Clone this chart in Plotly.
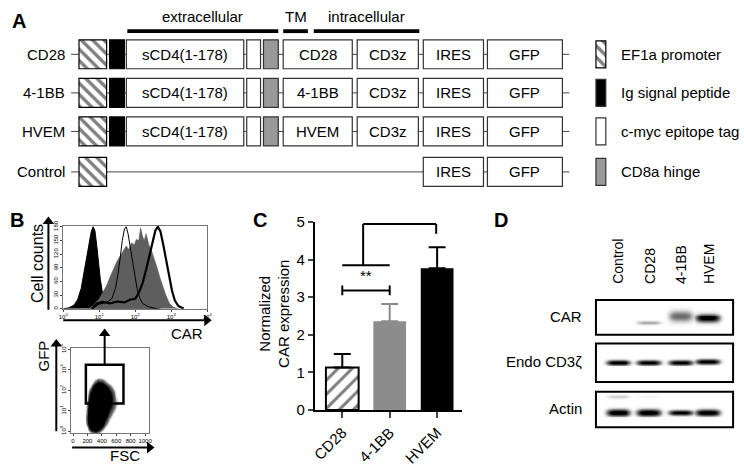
import numpy as np
import plotly.graph_objects as go

W, H = 744, 472
FONT = "Liberation Sans, Arial, sans-serif"

# ---------------- data ----------------
# Panel A: constructs
constructs = ["CD28", "4-1BB", "HVEM", "Control"]
costim_domains = ["CD28", "4-1BB", "HVEM", None]
legend_items = ["EF1a promoter", "Ig signal peptide", "c-myc epitope tag", "CD8a hinge"]
region_labels = ["extracellular", "TM", "intracellular"]

# Panel B: histogram (log10 CAR, cell counts)
control_log = [0.0, 0.15, 0.3, 0.4, 0.5, 0.58, 0.65, 0.72, 0.78, 0.83, 0.88, 0.93, 0.98, 1.03, 1.08, 1.15, 1.25, 1.4, 1.6, 1.9, 2.3, 2.7]
control_cnt = [0, 2, 8, 20, 45, 80, 115, 150, 170, 180, 172, 140, 100, 65, 40, 25, 15, 10, 6, 4, 2, 0]
bb_log = [0.7, 0.85, 1.0, 1.1, 1.2, 1.3, 1.4, 1.5, 1.6, 1.68, 1.75, 1.82, 1.9, 1.97, 2.03, 2.1, 2.15, 2.2, 2.25, 2.3, 2.38, 2.45, 2.52, 2.6, 2.68, 2.76, 2.85, 2.95, 3.05, 3.2]
bb_cnt = [0, 8, 22, 35, 50, 70, 88, 105, 118, 128, 138, 130, 145, 140, 152, 150, 178, 160, 150, 165, 140, 128, 112, 92, 70, 50, 30, 12, 4, 0]
cd28_log = [0.8, 1.0, 1.2, 1.35, 1.45, 1.52, 1.58, 1.64, 1.7, 1.75, 1.8, 1.86, 1.92, 1.98, 2.05, 2.12, 2.2, 2.35, 2.6]
cd28_cnt = [0, 10, 14, 22, 45, 75, 110, 150, 175, 180, 165, 135, 100, 70, 45, 25, 12, 5, 0]
hvem_log = [0.8, 0.95, 1.1, 1.3, 1.5, 1.7, 1.85, 2.0, 2.1, 2.2, 2.3, 2.4, 2.48, 2.56, 2.63, 2.7, 2.78, 2.86, 2.94, 3.02, 3.1, 3.2, 3.35]
hvem_cnt = [0, 12, 15, 12, 16, 14, 20, 22, 35, 55, 85, 120, 150, 172, 180, 170, 140, 105, 70, 40, 18, 6, 0]

# Panel B: dot plot density (FSC x log10 GFP), read by eye
fsc_bins = [150, 200, 250, 300, 350, 400, 450, 500, 550, 600, 650, 700]
gfp_bins = [-0.1, 0.15, 0.4, 0.65, 0.9, 1.15, 1.4, 1.65, 1.9, 2.15, 2.4, 2.65, 2.9]
dot_density = [
    [0, 0, 0.1, 0.2, 0.15, 0, 0, 0, 0, 0, 0, 0],
    [0, 0.1, 0.6, 0.8, 0.6, 0.3, 0.1, 0, 0, 0, 0, 0],
    [0, 0.3, 0.9, 1, 1, 0.7, 0.3, 0.1, 0, 0, 0, 0],
    [0, 0.35, 1, 1, 1, 0.9, 0.5, 0.2, 0.05, 0, 0, 0],
    [0, 0.3, 1, 1, 1, 0.95, 0.7, 0.35, 0.15, 0.05, 0, 0],
    [0, 0.25, 0.9, 1, 1, 1, 0.8, 0.5, 0.3, 0.15, 0.05, 0],
    [0, 0.2, 0.85, 1, 1, 1, 0.85, 0.6, 0.35, 0.2, 0.08, 0],
    [0, 0.1, 0.7, 1, 1, 1, 0.85, 0.6, 0.35, 0.15, 0.05, 0],
    [0, 0.05, 0.5, 0.95, 1, 1, 0.8, 0.5, 0.3, 0.1, 0.03, 0],
    [0, 0, 0.25, 0.7, 0.85, 0.8, 0.6, 0.35, 0.15, 0.05, 0, 0],
    [0, 0, 0.05, 0.3, 0.45, 0.4, 0.25, 0.1, 0.03, 0, 0, 0],
    [0, 0, 0, 0.05, 0.12, 0.1, 0.05, 0, 0, 0, 0, 0],
    [0, 0, 0, 0, 0, 0, 0, 0, 0, 0, 0, 0],
]
gate_fsc = [178, 700]
gate_gfp = [1.36, 3.25]

# Panel C: normalized CAR expression
car_groups = ["CD28", "4-1BB", "HVEM"]
car_mean = [1.13, 2.36, 3.77]
car_sem = [0.36, 0.46, 0.56]

# Panel D: western blot band intensities
blot_lanes = ["Control", "CD28", "4-1BB", "HVEM"]
blot_rows = ["CAR", "Endo CD3ζ", "Actin"]
car_band = [0.0, 0.22, 0.42, 0.95]
cd3z_band = [0.95, 0.9, 0.9, 0.95]
actin_band = [1.0, 1.0, 0.9, 1.0]
actin_upper_band = [0.12, 0.03, 0.0, 0.0]

# ---------------- layout constants (pixels) ----------------
row_y = [47, 87, 127, 169]
BOX_H = 30
seg = {
    "prom": (75, 103), "sig": (106, 121), "scd4": (123, 242), "myc": (245, 259),
    "hinge": (262, 277), "cost": (282, 352), "cd3z": (357, 419),
    "ires": (424, 485), "gfp": (489, 565),
}
LINE_END = 572

fig = go.Figure()
shapes = []
ann = []
heads_x, heads_y, heads_sym = [], [], []


def text(x, y, s, size=15, xanchor="center", yanchor="middle", bold=False, angle=0, color="black"):
    ann.append(dict(x=x, y=y, xref="x", yref="y", text=f"<b>{s}</b>" if bold else s,
                    showarrow=False, xanchor=xanchor, yanchor=yanchor, textangle=angle,
                    font=dict(family=FONT, size=size, color=color)))


def rect(x0, y0, x1, y1, fill="white", line="#333", lw=1.2, xref="x", yref="y", layer="above"):
    shapes.append(dict(type="rect", x0=x0, y0=y0, x1=x1, y1=y1, xref=xref, yref=yref,
                       fillcolor=fill, line=dict(color=line, width=lw), layer=layer))


def line(x0, y0, x1, y1, color="black", lw=1, xref="x", yref="y", layer="above"):
    shapes.append(dict(type="line", x0=x0, y0=y0, x1=x1, y1=y1, xref=xref, yref=yref,
                       line=dict(color=color, width=lw), layer=layer))


def arrow(x0, y0, x1, y1, lw=2):
    # line + triangular head at (x1, y1)
    if x0 == x1:
        line(x0, y0, x1, y1 + 6, lw=lw)
        heads_x.append(x1)
        heads_y.append(y1 + 4.5)
        heads_sym.append("triangle-up")
    else:
        line(x0, y0, x1 - 6, y1, lw=lw)
        heads_x.append(x1 - 4.5)
        heads_y.append(y1)
        heads_sym.append("triangle-right")


# ---------------- Panel A ----------------
text(14, 12, "A", size=20, bold=True)
hdr_x = [(124, 277), (282, 307), (313, 420)]
for lab, (a, b) in zip(region_labels, hdr_x):
    text((a + b) / 2 if lab != "TM" else 295, 8, lab, size=15)
    rect(a, 21, b, 25, fill="black", line="black", lw=0)

prom_y = []
for name, cost, yc in zip(constructs, costim_domains, row_y):
    text(63, yc, name, size=15, xanchor="right")
    line(67, yc, LINE_END, yc, color="#444", lw=1, layer="below")
    y0, y1 = yc - BOX_H / 2, yc + BOX_H / 2
    prom_y.append(yc)
    if cost is not None:
        rect(seg["sig"][0], y0, seg["sig"][1], y1, fill="black", line="black")
        rect(seg["scd4"][0], y0, seg["scd4"][1], y1)
        text(sum(seg["scd4"]) / 2, yc, "sCD4(1-178)")
        rect(seg["myc"][0], y0, seg["myc"][1], y1)
        rect(seg["hinge"][0], y0, seg["hinge"][1], y1, fill="#999999")
        rect(seg["cost"][0], y0, seg["cost"][1], y1)
        text(sum(seg["cost"]) / 2, yc, cost)
        rect(seg["cd3z"][0], y0, seg["cd3z"][1], y1)
        text(sum(seg["cd3z"]) / 2, yc, "CD3z")
    rect(seg["ires"][0], y0, seg["ires"][1], y1)
    text(sum(seg["ires"]) / 2, yc, "IRES")
    rect(seg["gfp"][0], y0, seg["gfp"][1], y1)
    text(sum(seg["gfp"]) / 2, yc, "GFP")

# hatched promoter boxes (rows + legend)
fig.add_trace(go.Bar(
    orientation="h", y=prom_y + [row_y[0]], base=[seg["prom"][0]] * 4 + [599],
    x=[seg["prom"][1] - seg["prom"][0]] * 4 + [10], width=[BOX_H] * 4 + [28],
    marker=dict(color="white", line=dict(color="black", width=1.2),
                pattern=dict(shape="\\", fgcolor="black", bgcolor="white", size=8, solidity=0.42)),
    xaxis="x", yaxis="y", showlegend=False, hoverinfo="skip"))

# legend
leg_fill = [None, "black", "white", "#999999"]
for lab, f, yc in zip(legend_items, leg_fill, row_y):
    if f is not None:
        rect(599, yc - 14, 609, yc + 14, fill=f, line="#333")
    text(622, yc, lab, size=15, xanchor="left")

# ---------------- Panel B ----------------
text(12, 219, "B", size=20, bold=True)
fig.add_trace(go.Scatter(x=control_log, y=control_cnt, mode="lines", fill="tozeroy",
                         line=dict(color="black", width=1), fillcolor="black",
                         xaxis="x3", yaxis="y3", showlegend=False, hoverinfo="skip"))
fig.add_trace(go.Scatter(x=bb_log, y=bb_cnt, mode="lines", fill="tozeroy",
                         line=dict(color="#5e5e5e", width=0.6), fillcolor="#5e5e5e",
                         xaxis="x3", yaxis="y3", showlegend=False, hoverinfo="skip"))
fig.add_trace(go.Scatter(x=cd28_log, y=cd28_cnt, mode="lines",
                         line=dict(color="black", width=1),
                         xaxis="x3", yaxis="y3", showlegend=False, hoverinfo="skip"))
fig.add_trace(go.Scatter(x=hvem_log, y=hvem_cnt, mode="lines",
                         line=dict(color="black", width=2.2),
                         xaxis="x3", yaxis="y3", showlegend=False, hoverinfo="skip"))

fig.add_trace(go.Heatmap(x=fsc_bins, y=gfp_bins, z=dot_density, zsmooth="best", showscale=False,
                         zmin=0, zmax=1,
                         colorscale=[[0, "rgba(255,255,255,0)"], [0.08, "rgba(255,255,255,0)"],
                                     [0.22, "rgba(90,90,90,0.8)"], [0.45, "black"], [1, "black"]],
                         xaxis="x4", yaxis="y4", hoverinfo="skip"))
rect(gate_fsc[0], gate_gfp[0], gate_fsc[1], gate_gfp[1], fill="rgba(0,0,0,0)", line="black", lw=2.5,
     xref="x4", yref="y4")

arrow(44, 312, 44, 216)
arrow(59, 323, 209, 323)
arrow(101, 369, 101, 332)
arrow(52, 438, 52, 343)
arrow(68, 455, 151, 455)
text(33, 264, "Cell counts", size=16, angle=-90)
text(184, 337, "CAR", size=15)
text(39, 360, "GFP", size=15, angle=-90)
text(122, 463, "FSC", size=15)

# ---------------- Panel C ----------------
text(258, 219, "C", size=20, bold=True)
xpos = list(range(len(car_groups)))
bar_styles = [
    dict(color="white", line=dict(color="black", width=2),
         pattern=dict(shape="/", fgcolor="black", bgcolor="white", size=10, solidity=0.3)),
    dict(color="#8c8c8c", line=dict(color="#8c8c8c", width=0)),
    dict(color="black", line=dict(color="black", width=0)),
]
err_colors = ["black", "#8c8c8c", "black"]
for i in xpos:
    fig.add_trace(go.Bar(x=[xpos[i]], y=[car_mean[i]], width=0.69, marker=bar_styles[i],
                         error_y=dict(type="data", array=[car_sem[i]], arrayminus=[0], symmetric=False,
                                      color=err_colors[i], thickness=2, width=8.5),
                         xaxis="x2", yaxis="y2", showlegend=False, hoverinfo="skip"))

# significance brackets
line(0, 3.18, 1, 3.18, lw=2, xref="x2", yref="y2")
line(0, 3.05, 0, 3.31, lw=2, xref="x2", yref="y2")
line(1, 3.05, 1, 3.31, lw=2, xref="x2", yref="y2")
line(0, 3.85, 1, 3.85, lw=2, xref="x2", yref="y2")
line(0.44, 3.85, 0.44, 4.95, lw=2, xref="x2", yref="y2")
line(0.44, 4.95, 1.98, 4.95, lw=2, xref="x2", yref="y2")
line(1.98, 4.95, 1.98, 4.69, lw=2, xref="x2", yref="y2")
ann.append(dict(x=0.5, y=3.3, xref="x2", yref="y2", text="**", showarrow=False, yanchor="bottom",
                font=dict(family=FONT, size=15, color="black")))
ann.append(dict(x=1.21, y=5.05, xref="x2", yref="y2", text="**", showarrow=False, yanchor="bottom",
                font=dict(family=FONT, size=15, color="black")))
text(273, 316, "Normalized<br>CAR expression", size=15, angle=-90)

# ---------------- Panel D ----------------
text(503, 219, "D", size=20, bold=True)
lane_x = [622, 653, 685, 713]
for lab, lx in zip(blot_lanes, lane_x):
    text(lx, 287, lab, size=14, angle=-90, yanchor="bottom")
strip_y = [(302, 338), (347, 387), (397, 434)]
for lab, (a, b) in zip(blot_rows, strip_y):
    text(587, (a + b) / 2 - 1, lab, size=15, xanchor="right")

xs = np.arange(600.5, 738, 1.0)
ys = np.arange(303.5, 434, 1.0)
X, Y = np.meshgrid(xs, ys)
Z = np.zeros_like(X)


def band(cx, cy, amp, sy, hw=11.5):
    global Z
    Z = Z + amp * np.exp(-np.abs((X - cx) / hw) ** 4) * np.exp(-((Y - cy) / sy) ** 2)


car_y = [326, 326, 319, 321]
car_sy = [2.5, 1.8, 5.5, 4.0]
for lx, a, cy, sy in zip(lane_x, car_band, car_y, car_sy):
    band(lx, cy, a, sy)
for lx, a, cy in zip(lane_x, cd3z_band, [367, 367, 367, 366]):
    band(lx, cy, a, 2.4)
for lx, a, sy in zip(lane_x, actin_band, [3.2, 3.2, 2.4, 3.0]):
    band(lx, 419, a, sy)
for lx, a in zip(lane_x, actin_upper_band):
    band(lx, 403, a, 1.8)
Z = np.clip(Z * 1.2, 0, 1)
fig.add_trace(go.Heatmap(x=xs, y=ys, z=Z, zmin=0, zmax=1, showscale=False,
                         colorscale=[[0, "white"], [0.35, "#8a8a8a"], [1, "black"]],
                         xaxis="x", yaxis="y", hoverinfo="skip"))
for (a, b) in strip_y:
    rect(599, a, 738, b, fill="rgba(0,0,0,0)", line="black", lw=2)

# arrowheads
fig.add_trace(go.Scatter(x=heads_x, y=heads_y, mode="markers",
                         marker=dict(symbol=heads_sym, size=10, color="black", line=dict(width=0)),
                         xaxis="x", yaxis="y", showlegend=False, hoverinfo="skip"))

# ---------------- axes ----------------
def dom_x(a, b):
    return [a / W, b / W]


def dom_y(top, bottom):
    return [1 - bottom / H, 1 - top / H]


tiny = dict(family=FONT, size=6, color="black")
fig.update_layout(
    width=W, height=H, autosize=False, margin=dict(l=0, r=0, t=0, b=0),
    paper_bgcolor="white", plot_bgcolor="rgba(0,0,0,0)", barmode="overlay",
    font=dict(family=FONT, color="black"),
    shapes=shapes, annotations=ann, showlegend=False,
    xaxis=dict(domain=[0, 1], range=[0, W], visible=False, fixedrange=True),
    yaxis=dict(domain=[0, 1], range=[H, 0], visible=False, fixedrange=True),
    xaxis2=dict(domain=dom_x(314, 463), range=[-0.58, 2.52], anchor="y2", showline=True, linewidth=2,
                linecolor="black", ticks="outside", ticklen=6, tickwidth=2, tickvals=xpos,
                ticktext=car_groups, tickangle=-45, tickfont=dict(family=FONT, size=15),
                showgrid=False, zeroline=False),
    yaxis2=dict(domain=dom_y(221, 416), range=[0, 5], anchor="x2", showline=True, linewidth=2,
                linecolor="black", ticks="outside", ticklen=5, tickwidth=2, dtick=1,
                tickfont=dict(family=FONT, size=15), showgrid=False, zeroline=False),
    xaxis3=dict(domain=dom_x(59, 205), range=[0, 4], anchor="y3", showline=True, mirror=True,
                linecolor="#777", linewidth=1, ticks="outside", ticklen=2, tickvals=[0, 1, 2, 3, 4],
                ticktext=["10<sup>0</sup>", "10<sup>1</sup>", "10<sup>2</sup>", "10<sup>3</sup>", "10<sup>4</sup>"],
                tickfont=tiny, showgrid=False, zeroline=False),
    yaxis3=dict(domain=dom_y(225, 311), range=[0, 182], anchor="x3", showline=True, mirror=True,
                linecolor="#777", linewidth=1, ticks="outside", ticklen=2, tickvals=[0, 30, 60, 90, 120, 150, 180],
                tickangle=-90, tickfont=tiny, showgrid=False, zeroline=False),
    xaxis4=dict(domain=dom_x(67, 146), range=[-27, 1055], anchor="y4", showline=True, mirror=True,
                linecolor="#777", linewidth=1, ticks="outside", ticklen=2,
                tickvals=[0, 200, 400, 600, 800, 1000], tickfont=tiny, showgrid=False, zeroline=False),
    yaxis4=dict(domain=dom_y(352, 440), range=[-0.09, 4.05], anchor="x4", showline=True, mirror=True,
                linecolor="#777", linewidth=1, ticks="outside", ticklen=2, tickvals=[0, 1, 2, 3, 4],
                ticktext=["10<sup>0</sup>", "10<sup>1</sup>", "10<sup>2</sup>", "10<sup>3</sup>", "10<sup>4</sup>"],
                tickangle=-90, tickfont=tiny, showgrid=False, zeroline=False),
)

fig.write_html("out.html", config={"displayModeBar": False},
               post_script="document.body.style.margin='0';document.body.style.overflow='hidden';")
